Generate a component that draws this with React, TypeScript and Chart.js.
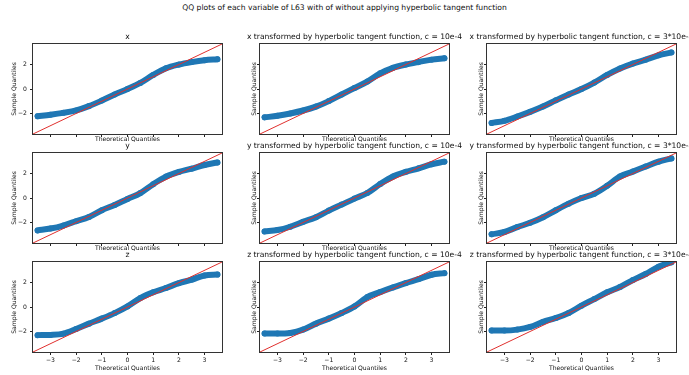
import React, { useEffect, useRef } from 'react';
import Chart from 'chart.js/auto';

// ---- data ----
const theoreticalQuantiles = [-3.5, -3, -2.5, -2, -1.5, -1, -0.5, 0, 0.5, 1, 1.5, 2, 2.5, 3, 3.5];

const xSample = [-2.22, -2.1, -1.95, -1.75, -1.4, -0.95, -0.45, 0.0, 0.5, 1.15, 1.7, 2.0, 2.2, 2.35, 2.43];
const ySample = [-2.65, -2.5, -2.25, -1.9, -1.55, -1.0, -0.57, -0.08, 0.4, 1.13, 1.75, 2.13, 2.4, 2.7, 2.9];
const zSample = [-2.3, -2.28, -2.18, -1.8, -1.36, -0.95, -0.5, 0.05, 0.73, 1.2, 1.55, 1.95, 2.23, 2.58, 2.65];

const xTanh1 = [-2.32, -2.19, -2.0, -1.76, -1.44, -0.99, -0.45, 0.08, 0.61, 1.28, 1.73, 2.0, 2.21, 2.4, 2.51];
const yTanh1 = [-2.73, -2.62, -2.35, -1.95, -1.57, -1.03, -0.54, -0.05, 0.41, 1.14, 1.76, 2.14, 2.43, 2.76, 2.97];
const zTanh1 = [-2.17, -2.17, -2.12, -1.85, -1.36, -0.95, -0.49, 0.05, 0.81, 1.22, 1.6, 1.96, 2.28, 2.64, 2.77];

const xTanh3 = [-2.78, -2.6, -2.25, -1.87, -1.44, -0.93, -0.45, 0.0, 0.53, 1.15, 1.68, 2.08, 2.4, 2.75, 2.99];
const yTanh3 = [-2.97, -2.78, -2.38, -2.03, -1.57, -1.0, -0.46, 0.0, 0.35, 1.0, 1.76, 2.16, 2.57, 2.97, 3.24];
const zTanh3 = [-1.93, -1.93, -1.85, -1.63, -1.22, -0.9, -0.49, 0.11, 0.65, 1.2, 1.63, 2.2, 2.7, 3.3, 3.65];

const panelTitles = [
  'x',
  'x transformed by hyperbolic tangent function, c = 10e-4',
  'x transformed by hyperbolic tangent function, c = 3*10e-4',
  'y',
  'y transformed by hyperbolic tangent function, c = 10e-4',
  'y transformed by hyperbolic tangent function, c = 3*10e-4',
  'z',
  'z transformed by hyperbolic tangent function, c = 10e-4',
  'z transformed by hyperbolic tangent function, c = 3*10e-4',
];
const panelSamples = [xSample, xTanh1, xTanh3, ySample, yTanh1, yTanh3, zSample, zTanh1, zTanh3];

const xTicks = [-3, -2, -1, 0, 1, 2, 3];
const yTicks = [-2, 0, 2];
const AXIS_LIMIT = 3.68;
const suptitle = 'QQ plots of each variable of L63 with of without applying hyperbolic tangent function';
const xLabel = 'Theoretical Quantiles';
const yLabel = 'Sample Quantiles';

// ---- layout ----
const COL_LEFT = [33, 260, 487];
const ROW_TOP = [44, 153, 262];
const AX_W = 189;
const AX_H = 90;
const SIDE = 33;
const TOP = 14;
const FONT = 'DejaVu Sans';
const TEXT = '#111';
const TITLE_SIZE = 7.6;
const LABEL_SIZE = 6.1;

const fmt = (v: number) => (v < 0 ? '\u2212' + Math.abs(v) : String(v));

const framePlugin = {
  id: 'frame',
  afterDatasetsDraw(chart: any) {
    const { ctx, chartArea } = chart;
    ctx.save();
    ctx.strokeStyle = '#333';
    ctx.lineWidth = 1;
    ctx.strokeRect(
      Math.round(chartArea.left) - 0.5,
      Math.round(chartArea.top) - 0.5,
      Math.round(chartArea.right - chartArea.left) + 1,
      Math.round(chartArea.bottom - chartArea.top) + 1
    );
    ctx.restore();
  },
};

function Panel({ index }: { index: number }) {
  const ref = useRef<HTMLCanvasElement>(null);
  const row = Math.floor(index / 3);
  const col = index % 3;
  const bottomH = row === 2 ? 22 : 12;
  const width = AX_W + 2 * SIDE;
  const height = TOP + AX_H + bottomH;

  useEffect(() => {
    const sample = panelSamples[index];
    const points = theoreticalQuantiles.map((q, i) => ({ x: q, y: sample[i] }));
    const labelLH = LABEL_SIZE * 1.2;
    const titleLH = TITLE_SIZE * 1.2;
    const titlePad = (TOP - titleLH) / 2;
    const chart = new Chart(ref.current as HTMLCanvasElement, {
      type: 'scatter',
      data: {
        datasets: [
          {
            data: [
              { x: -AXIS_LIMIT, y: -AXIS_LIMIT },
              { x: AXIS_LIMIT, y: AXIS_LIMIT },
            ],
            showLine: true,
            borderColor: '#e0302e',
            borderWidth: 1,
            pointRadius: 0,
            clip: 0,
          },
          {
            data: points,
            showLine: true,
            cubicInterpolationMode: 'monotone',
            borderColor: '#1f77b4',
            backgroundColor: '#1f77b4',
            borderWidth: 6,
            borderCapStyle: 'round',
            borderJoinStyle: 'round',
            pointRadius: 3,
            pointBorderWidth: 0,
            clip: 0,
          },
        ],
      } as any,
      options: {
        animation: false,
        responsive: false,
        devicePixelRatio: 1,
        events: [],
        layout: { padding: 0 },
        plugins: {
          legend: { display: false },
          tooltip: { enabled: false },
          title: {
            display: true,
            text: panelTitles[index],
            color: TEXT,
            font: { family: FONT, size: TITLE_SIZE, weight: 'normal' },
            padding: { top: titlePad, bottom: titlePad },
          },
        },
        scales: {
          x: {
            type: 'linear',
            position: 'bottom',
            min: -AXIS_LIMIT,
            max: AXIS_LIMIT,
            afterBuildTicks: (s: any) => {
              s.ticks = xTicks.map((v) => ({ value: v }));
            },
            afterFit: (s: any) => {
              s.height = bottomH;
            },
            ticks: {
              display: row === 2,
              autoSkip: false,
              maxRotation: 0,
              padding: 2,
              color: TEXT,
              font: { family: FONT, size: LABEL_SIZE },
              callback: (v: any) => fmt(Number(v)),
            },
            grid: { display: true, drawOnChartArea: false, drawTicks: true, tickLength: 3, color: '#222', lineWidth: 1 },
            border: { display: false },
            title: {
              display: true,
              text: xLabel,
              color: TEXT,
              font: { family: FONT, size: LABEL_SIZE },
              padding: { top: 0, bottom: (row === 2 ? 16.3 : 5.3) - (bottomH - labelLH / 2) < 0 ? bottomH - labelLH / 2 - (row === 2 ? 16.3 : 5.3) : 0 },
            },
          },
          y: {
            type: 'linear',
            position: 'left',
            min: -AXIS_LIMIT,
            max: AXIS_LIMIT,
            afterBuildTicks: (s: any) => {
              s.ticks = yTicks.map((v) => ({ value: v }));
            },
            afterFit: (s: any) => {
              s.width = SIDE;
            },
            ticks: {
              display: col === 0,
              autoSkip: false,
              padding: 3,
              color: TEXT,
              font: { family: FONT, size: LABEL_SIZE },
              callback: (v: any) => fmt(Number(v)),
            },
            grid: { display: true, drawOnChartArea: false, drawTicks: true, tickLength: 3, color: '#222', lineWidth: 1 },
            border: { display: false },
            title: {
              display: true,
              text: yLabel,
              color: TEXT,
              font: { family: FONT, size: LABEL_SIZE },
              padding: { top: (col === 0 ? 14 : 27) - labelLH / 2, bottom: 0 },
            },
          },
          y2: {
            type: 'linear',
            position: 'right',
            display: true,
            grid: { display: false },
            ticks: { display: false },
            border: { display: false },
            title: { display: false },
            afterFit: (s: any) => {
              s.width = SIDE;
            },
          },
        },
      } as any,
      plugins: [framePlugin],
    });
    return () => chart.destroy();
  }, [index]);

  return (
    <canvas
      ref={ref}
      width={width}
      height={height}
      style={{
        position: 'absolute',
        left: COL_LEFT[col] - SIDE,
        top: ROW_TOP[row] - TOP,
        width,
        height,
      }}
    />
  );
}

export default function App() {
  return (
    <div
      style={{
        position: 'absolute',
        left: 0,
        top: 0,
        width: 689,
        height: 375,
        overflow: 'hidden',
        background: '#fff',
      }}
    >
      <div
        style={{
          position: 'absolute',
          left: 0,
          top: 3,
          width: 689,
          textAlign: 'center',
          fontFamily: FONT,
          fontSize: TITLE_SIZE + 'px',
          lineHeight: '9px',
          color: TEXT,
          whiteSpace: 'nowrap',
        }}
      >
        {suptitle}
      </div>
      {panelTitles.map((_, i) => (
        <Panel key={i} index={i} />
      ))}
    </div>
  );
}
